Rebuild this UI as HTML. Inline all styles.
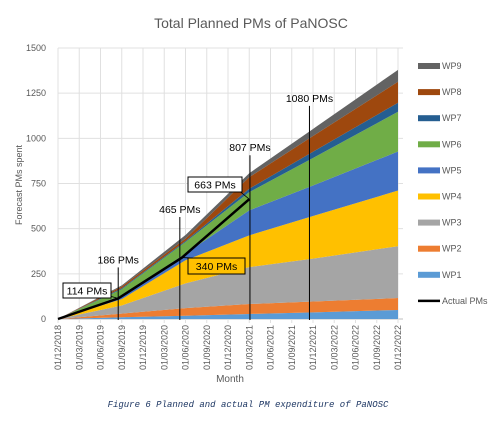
<!DOCTYPE html>
<html><head><meta charset="utf-8"><style>
body{margin:0;background:#fff;width:493px;height:420px;overflow:hidden;font-family:"Liberation Sans",sans-serif}
</style></head><body>
<svg id="c" width="493" height="420" xmlns="http://www.w3.org/2000/svg" font-family="Liberation Sans, sans-serif">
<text x="251" y="28" text-anchor="middle" font-size="14" fill="#595959">Total Planned PMs of PaNOSC</text>
<g id="grid"></g><g id="areas"></g><g id="annot"></g><g id="axes"></g><g id="legend"></g>
<text transform="translate(22,185) rotate(-90)" text-anchor="middle" font-size="9" fill="#595959">Forecast PMs spent</text>
<text x="230" y="382" text-anchor="middle" font-size="10" fill="#595959">Month</text>
<text x="248" y="407" text-anchor="middle" font-size="9" font-style="italic" fill="#1f3864" font-family="Liberation Mono, monospace">Figure 6 Planned and actual PM expenditure of PaNOSC</text>
</svg>
<script>
const tickLabels=["01/12/2018","01/03/2019","01/06/2019","01/09/2019","01/12/2019","01/03/2020","01/06/2020","01/09/2020","01/12/2020","01/03/2021","01/06/2021","01/09/2021","01/12/2021","01/03/2022","01/06/2022","01/09/2022","01/12/2022"];
const yTicks=[0,250,500,750,1000,1250,1500];
const months=[0,9,18,27,36,48];
const seriesNames=["WP1","WP2","WP3","WP4","WP5","WP6","WP7","WP8","WP9"];
const seriesColors=["#5b9bd5","#ed7d31","#a5a5a5","#ffc000","#4472c4","#70ad47","#255e91","#9e480e","#636363"];
const wp1=[0,10,18,28,37,50];
const wp2=[0,20,42,55,60,66];
const wp3=[0,45,137,204,237,287];
const wp4=[0,35,128,176,236,308];
const wp5=[0,20,37,138,169,216];
const wp6=[0,35,64,101,152,220];
const wp7=[0,5,6,19,35,50];
const wp8=[0,10,13,64,87,116];
const wp9=[0,6,20,22,39,66];
const actualMonths=[0,8.5,17.5,27];
const actualValues=[0,114,340,663];
const markerMonths=[8.5,17.2,27.1,35.5];
const markerLabels=["186 PMs","465 PMs","807 PMs","1080 PMs"];
const markerValues=[186,465,807,1080];

const NS="http://www.w3.org/2000/svg";
const X0=58,X1=398,Y0=319,Y1=48;
const xs=m=>X0+(X1-X0)*m/48;
const ys=v=>Y0-(Y0-Y1)*v/1500;
function mk(p,t,a){const e=document.createElementNS(NS,t);for(const k in a)e.setAttribute(k,a[k]);p.appendChild(e);return e;}
const grid=document.getElementById('grid'),areas=document.getElementById('areas'),annot=document.getElementById('annot'),axes=document.getElementById('axes'),legend=document.getElementById('legend');
yTicks.forEach(v=>{
 const l=mk(grid,'line',{x1:X0,x2:X1+5,y1:ys(v),y2:ys(v),stroke:v==0?'#bfbfbf':'#e0e0e0','stroke-width':1});
 
 
 const t=mk(axes,'text',{x:X0-12,y:ys(v)+3,'text-anchor':'end','font-size':9,fill:'#595959'});t.textContent=v;
 
 
});
tickLabels.forEach((s,i)=>{
 const x=xs(i*3);
 const l=mk(grid,'line',{x1:x,x2:x,y1:Y1,y2:Y0+4,stroke:'#e0e0e0','stroke-width':1});
 
 
 const t=mk(axes,'text',{transform:`translate(${x+3},${Y0+6}) rotate(-90)`,'text-anchor':'end','font-size':9,fill:'#595959'});t.textContent=s;
 
 
});
const series=[wp1,wp2,wp3,wp4,wp5,wp6,wp7,wp8,wp9];
let base=months.map(()=>0);
series.forEach((s,k)=>{
 const top=base.map((b,i)=>b+s[i]);
 let d='M'+months.map((m,i)=>xs(m)+','+ys(top[i])).join(' L');
 for(let i=months.length-1;i>=0;i--)d+=' L'+xs(months[i])+','+ys(base[i]);
 const p=mk(areas,'path',{d:d+'Z',fill:seriesColors[k]});
 
 
 base=top;
});
const al=mk(areas,'polyline',{points:actualMonths.map((m,i)=>xs(m)+','+ys(actualValues[i])).join(' '),fill:'none',stroke:'#000','stroke-width':2.5});


markerMonths.forEach((m,i)=>{
 const x=xs(m),yt=ys(markerValues[i])-18;
 const l=mk(annot,'line',{x1:x,x2:x,y1:yt,y2:Y0+1,stroke:'#000','stroke-width':1});
 
 
 const t=mk(annot,'text',{x:x,y:yt-4,'text-anchor':'middle','font-size':10.5,fill:'#000'});t.textContent=markerLabels[i];
 
 
});
const boxes=[[63,283,48,15,1],[188,177,54,15,3],[188,258,57,16,2]];
boxes.forEach(b=>{
 const i=b[4];const px=xs(actualMonths[i]),py=ys(actualValues[i]);
 mk(annot,'line',{x1:b[0]+b[2]-5,x2:px,y1:b[1]+(i==2?2:b[3]-3),y2:py,stroke:'#000','stroke-width':0.8});
 const r=mk(annot,'rect',{x:b[0],y:b[1],width:b[2],height:b[3],fill:i==2?'#ffc000':'#fff',stroke:'#000','stroke-width':1});
 
 
 const t=mk(annot,'text',{x:b[0]+b[2]/2,y:b[1]+b[3]/2+4,'text-anchor':'middle','font-size':10.5,fill:'#000'});t.textContent=actualValues[i]+' PMs';
 
 
});
const names=[...seriesNames].reverse().concat(["Actual PMs"]);
names.forEach((n,i)=>{
 const y=66+i*26.1;
 const k=seriesNames.indexOf(n);
 const g=mk(legend,'g',{});
 
 
 if(k>=0)mk(g,'rect',{x:418,y:y-3,width:22,height:6,fill:seriesColors[k]});
 else mk(g,'line',{x1:418,x2:440,y1:y,y2:y,stroke:'#000','stroke-width':2.5});
 const t=mk(g,'text',{x:442,y:y+3,'font-size':9,fill:'#595959'});t.textContent=n;
});
</script>
</body></html>
